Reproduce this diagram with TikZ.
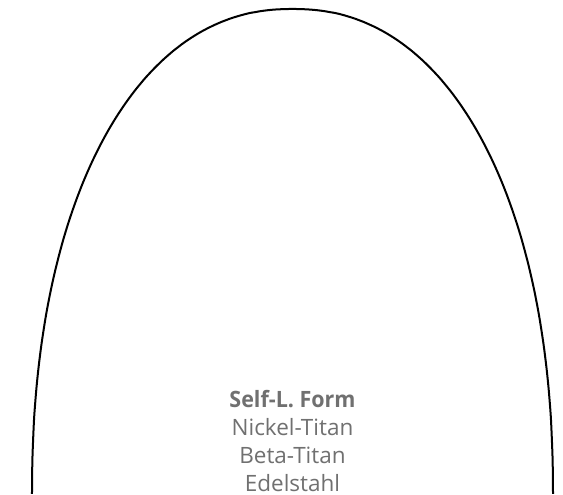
\documentclass[tikz,border=0pt]{standalone}
\usepackage{fontspec}
\setmainfont{Open Sans}
\usepackage{xcolor}
\definecolor{labelgray}{RGB}{112,112,112}
\tikzset{
    wire/.style={line width=2pt, black},
    label/.style={text=labelgray, font=\fontsize{22.5}{27}\selectfont, anchor=base, inner sep=0pt},
}

\begin{document}
\begin{tikzpicture}[x=1pt,y=-1pt]
    \useasboundingbox (0,0) rectangle (563,495);

    % arch form (superellipse, exponent 2.2)
    \draw [wire] plot[domain=0.3:179.7, samples=200, smooth, variable=\t]
        ({292.5 + 260.5*sign(cos(\t))*abs(cos(\t))^(0.909)},
         {498 - 489*abs(sin(\t))^(0.909)});

    \node[label] (form) at (292.5, 407) {\scalebox{0.955}[1]{\bfseries Self-L. Form}};
    \node[label] (niti) at (292.5, 435) {Nickel-Titan};
    \node[label] (beta) at (292.5, 463) {Beta-Titan};
    \node[label] (steel) at (292.5, 491) {Edelstahl};
\end{tikzpicture}
\end{document}
